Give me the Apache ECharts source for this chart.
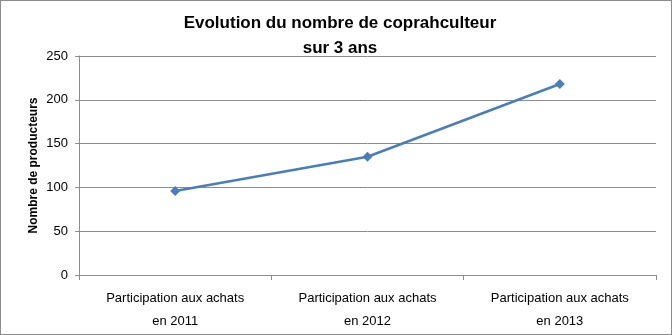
<!DOCTYPE html>
<html><head><meta charset="utf-8">
<script src="https://cdn.jsdelivr.net/npm/echarts@6/dist/echarts.min.js"></script>
<style>html,body{margin:0;padding:0;background:#fff}#c{width:672px;height:335px;box-sizing:border-box;border:1px solid #8c8c8c}</style>
</head><body><div id="c"></div>
<script>
const categories = ['Participation aux achats\nen 2011', 'Participation aux achats\nen 2012', 'Participation aux achats\nen 2013'];
const producteurs = [96, 135, 218];
const yTicks = [0, 50, 100, 150, 200, 250];

const chart = echarts.init(document.getElementById('c'));
const font = 'Liberation Sans';
chart.setOption({
  animation: false,
  title: {
    text: 'Evolution du nombre de coprahculteur\nsur 3 ans',
    left: 334, top: 5, textAlign: 'center',
    textStyle: { fontFamily: font, fontSize: 17, fontWeight: 'bold', color: '#000', lineHeight: 25 }
  },
  grid: { left: 78, right: 15, top: 55, bottom: 59, containLabel: false },
  xAxis: {
    type: 'category', data: categories, boundaryGap: true,
    axisLine: { lineStyle: { color: '#8c8c8c', width: 1 } },
    axisTick: { show: true, length: 5, lineStyle: { color: '#8c8c8c' } },
    axisLabel: { fontFamily: font, fontSize: 13, color: '#000', lineHeight: 23, margin: 12 }
  },
  yAxis: {
    type: 'value', min: yTicks[0], max: yTicks[yTicks.length - 1], interval: 50,
    name: 'Nombre de producteurs', nameLocation: 'middle', nameGap: 39, nameRotate: 90,
    nameMoveOverlap: false,
    nameTextStyle: { fontFamily: font, fontSize: 12, fontWeight: 'bold', color: '#000' },
    axisLine: { show: true, lineStyle: { color: '#8c8c8c', width: 1 } },
    axisTick: { show: true, length: 4, inside: false, lineStyle: { color: '#8c8c8c' } },
    axisLabel: { fontFamily: font, fontSize: 13, color: '#000', margin: 11 },
    splitLine: { show: true, lineStyle: { color: '#8c8c8c', width: 1 } }
  },
  series: [{
    type: 'line', data: producteurs,
    symbol: 'diamond', symbolSize: 10,
    lineStyle: { color: '#4a7ebb', width: 2.5 },
    itemStyle: { color: '#4a7ebb' }
  }]
});
</script></body></html>
